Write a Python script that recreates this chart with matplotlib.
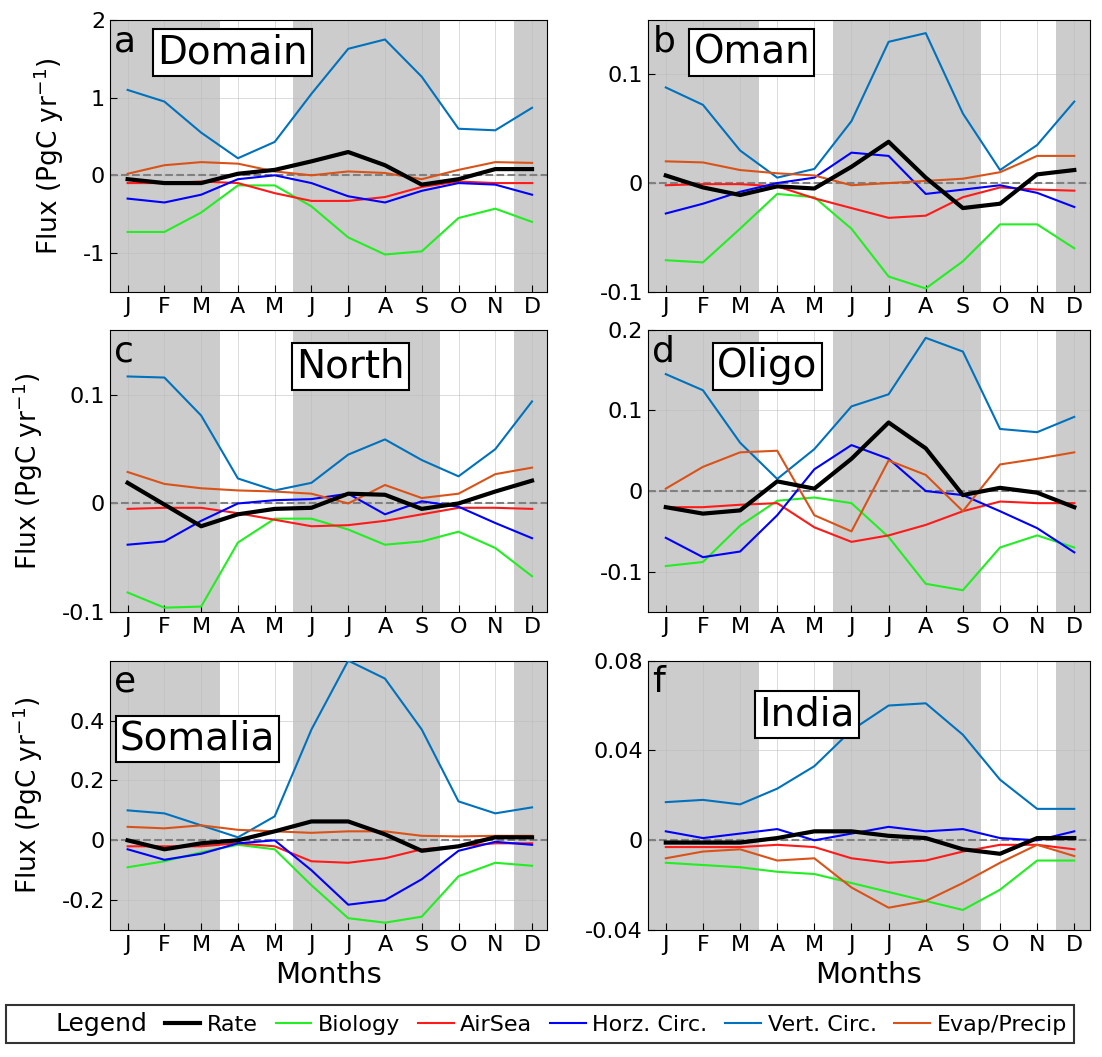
import numpy as np
import matplotlib
matplotlib.use("Agg")
import matplotlib.pyplot as plt
from matplotlib.lines import Line2D

months = ["J", "F", "M", "A", "M", "J", "J", "A", "S", "O", "N", "D"]
series_names = ["Rate", "Biology", "AirSea", "Horz. Circ.", "Vert. Circ.", "Evap/Precip"]
colors = ["black", "#22ee22", "#ff1a1a", "#0000ff", "#0072bd", "#d95319"]

# panel a: Domain
dom_rate = [-0.05, -0.1, -0.1, 0.02, 0.07, 0.18, 0.3, 0.13, -0.12, -0.05, 0.08, 0.08]
dom_bio = [-0.73, -0.73, -0.48, -0.13, -0.13, -0.4, -0.8, -1.02, -0.98, -0.55, -0.43, -0.6]
dom_air = [-0.1, -0.1, -0.08, -0.1, -0.23, -0.33, -0.33, -0.28, -0.15, -0.08, -0.1, -0.1]
dom_horz = [-0.3, -0.35, -0.25, -0.05, 0.0, -0.1, -0.27, -0.35, -0.2, -0.1, -0.12, -0.25]
dom_vert = [1.1, 0.95, 0.55, 0.22, 0.43, 1.05, 1.63, 1.75, 1.27, 0.6, 0.58, 0.87]
dom_evap = [0.02, 0.13, 0.17, 0.15, 0.05, 0.0, 0.05, 0.03, -0.05, 0.07, 0.17, 0.16]

# panel b: Oman
oman_rate = [0.007, -0.004, -0.011, -0.003, -0.005, 0.015, 0.038, 0.005, -0.023, -0.019, 0.008, 0.012]
oman_bio = [-0.071, -0.073, -0.042, -0.01, -0.013, -0.042, -0.086, -0.097, -0.072, -0.038, -0.038, -0.06]
oman_air = [-0.002, -0.001, -0.001, -0.003, -0.014, -0.023, -0.032, -0.03, -0.013, -0.004, -0.006, -0.007]
oman_horz = [-0.028, -0.019, -0.008, 0.0, 0.005, 0.028, 0.025, -0.01, -0.006, -0.002, -0.009, -0.022]
oman_vert = [0.088, 0.072, 0.03, 0.005, 0.013, 0.057, 0.13, 0.138, 0.064, 0.012, 0.035, 0.075]
oman_evap = [0.02, 0.019, 0.012, 0.009, 0.007, -0.002, 0.0, 0.002, 0.004, 0.01, 0.025, 0.025]

# panel c: North
north_rate = [0.019, -0.001, -0.021, -0.01, -0.005, -0.004, 0.009, 0.008, -0.005, 0.0, 0.011, 0.021]
north_bio = [-0.082, -0.096, -0.095, -0.036, -0.014, -0.014, -0.024, -0.038, -0.035, -0.026, -0.041, -0.067]
north_air = [-0.005, -0.004, -0.004, -0.009, -0.015, -0.021, -0.02, -0.016, -0.01, -0.004, -0.004, -0.005]
north_horz = [-0.038, -0.035, -0.016, 0.0, 0.003, 0.004, 0.009, -0.01, 0.002, -0.003, -0.018, -0.032]
north_vert = [0.117, 0.116, 0.081, 0.023, 0.012, 0.019, 0.045, 0.059, 0.04, 0.025, 0.05, 0.094]
north_evap = [0.029, 0.018, 0.014, 0.012, 0.011, 0.009, 0.0, 0.017, 0.005, 0.009, 0.027, 0.033]

# panel d: Oligo
oligo_rate = [-0.02, -0.028, -0.024, 0.012, 0.003, 0.04, 0.085, 0.053, -0.005, 0.004, -0.002, -0.02]
oligo_bio = [-0.093, -0.088, -0.043, -0.012, -0.008, -0.015, -0.057, -0.115, -0.123, -0.07, -0.055, -0.07]
oligo_air = [-0.02, -0.02, -0.017, -0.015, -0.045, -0.063, -0.055, -0.042, -0.025, -0.013, -0.015, -0.015]
oligo_horz = [-0.058, -0.082, -0.075, -0.03, 0.027, 0.057, 0.04, 0.0, -0.005, -0.025, -0.046, -0.076]
oligo_vert = [0.145, 0.125, 0.06, 0.015, 0.052, 0.105, 0.12, 0.19, 0.173, 0.077, 0.073, 0.092]
oligo_evap = [0.003, 0.03, 0.048, 0.05, -0.03, -0.05, 0.038, 0.02, -0.025, 0.033, 0.04, 0.048]

# panel e: Somalia
som_rate = [0.0, -0.03, -0.01, 0.0, 0.03, 0.063, 0.063, 0.02, -0.035, -0.02, 0.01, 0.01]
som_bio = [-0.09, -0.07, -0.04, -0.015, -0.03, -0.15, -0.26, -0.275, -0.255, -0.12, -0.075, -0.085]
som_air = [-0.02, -0.02, -0.02, -0.01, -0.02, -0.07, -0.075, -0.06, -0.03, -0.02, -0.01, -0.01]
som_horz = [-0.03, -0.065, -0.045, -0.01, 0.0, -0.1, -0.215, -0.2, -0.13, -0.035, -0.005, -0.015]
som_vert = [0.1, 0.09, 0.05, 0.01, 0.08, 0.37, 0.6, 0.54, 0.37, 0.13, 0.09, 0.11]
som_evap = [0.045, 0.04, 0.05, 0.035, 0.03, 0.025, 0.03, 0.03, 0.015, 0.013, 0.015, 0.015]

# panel f: India
ind_rate = [-0.001, -0.001, -0.001, 0.001, 0.004, 0.004, 0.002, 0.001, -0.004, -0.006, 0.001, 0.001]
ind_bio = [-0.01, -0.011, -0.012, -0.014, -0.015, -0.019, -0.023, -0.027, -0.031, -0.022, -0.009, -0.009]
ind_air = [-0.003, -0.003, -0.003, -0.002, -0.003, -0.008, -0.01, -0.009, -0.005, -0.002, -0.002, -0.004]
ind_horz = [0.004, 0.001, 0.003, 0.005, 0.0, 0.003, 0.006, 0.004, 0.005, 0.001, 0.0, 0.004]
ind_vert = [0.017, 0.018, 0.016, 0.023, 0.033, 0.049, 0.06, 0.061, 0.047, 0.027, 0.014, 0.014]
ind_evap = [-0.008, -0.005, -0.004, -0.009, -0.008, -0.021, -0.03, -0.027, -0.019, -0.01, -0.002, -0.007]

panels = [
    ("a", "Domain", [dom_rate, dom_bio, dom_air, dom_horz, dom_vert, dom_evap],
     (-1.5, 2), [-1, 0, 1, 2], ["-1", "0", "1", "2"], (0.28, 0.88)),
    ("b", "Oman", [oman_rate, oman_bio, oman_air, oman_horz, oman_vert, oman_evap],
     (-0.1, 0.15), [-0.1, 0, 0.1], ["-0.1", "0", "0.1"], (0.235, 0.88)),
    ("c", "North", [north_rate, north_bio, north_air, north_horz, north_vert, north_evap],
     (-0.1, 0.16), [-0.1, 0, 0.1], ["-0.1", "0", "0.1"], (0.55, 0.87)),
    ("d", "Oligo", [oligo_rate, oligo_bio, oligo_air, oligo_horz, oligo_vert, oligo_evap],
     (-0.15, 0.2), [-0.1, 0, 0.1, 0.2], ["-0.1", "0", "0.1", "0.2"], (0.27, 0.87)),
    ("e", "Somalia", [som_rate, som_bio, som_air, som_horz, som_vert, som_evap],
     (-0.3, 0.6), [-0.2, 0, 0.2, 0.4], ["-0.2", "0", "0.2", "0.4"], (0.2, 0.71)),
    ("f", "India", [ind_rate, ind_bio, ind_air, ind_horz, ind_vert, ind_evap],
     (-0.04, 0.08), [-0.04, 0, 0.04, 0.08], ["-0.04", "0", "0.04", "0.08"], (0.36, 0.8)),
]

fig = plt.figure(figsize=(11.02, 10.57), dpi=100)
lefts = [0.0998, 0.588]
widths = [0.397, 0.401]
rows = [(0.724, 0.257), (0.421, 0.267), (0.120, 0.255)]

x = np.arange(1, 13)
for i, (letter, name, data, ylim, yt, ytl, tpos) in enumerate(panels):
    r, c = divmod(i, 2)
    ax = fig.add_axes([lefts[c], rows[r][0], widths[c], rows[r][1]])
    # seasons shading
    for a, b in [(0.4, 3.5), (5.5, 9.5), (11.5, 12.6)]:
        ax.axvspan(a, b, color="#cccccc", lw=0, zorder=0)
    ax.grid(True, color="#bbbbbb", lw=0.6, alpha=0.6, zorder=1)
    ax.axhline(0, color="gray", ls="--", lw=1.5, zorder=2)
    for k, (vals, col) in enumerate(zip(data, colors)):
        ax.plot(x, vals, color=col, lw=3 if k == 0 else 1.5, zorder=3 if k else 4)
    ax.set_xlim(0.52, 12.42)
    ax.set_ylim(*ylim)
    ax.set_xticks(x)
    ax.set_xticklabels(months)
    ax.set_yticks(yt)
    ax.set_yticklabels(ytl)
    ax.tick_params(direction="in", labelsize=16, length=5)
    ax.text(0.01, 0.985, letter, transform=ax.transAxes, fontsize=26, va="top", ha="left")
    ax.text(tpos[0], tpos[1], name, transform=ax.transAxes, fontsize=28, ha="center", va="center",
            bbox=dict(facecolor="white", edgecolor="black", lw=1.5, pad=3), zorder=5)
    if c == 0:
        ax.set_ylabel("Flux (PgC yr$^{\\mathregular{-1}}$)", fontsize=19, labelpad=12)
    if r == 2:
        ax.set_xlabel("Months", fontsize=21)

handles = [Line2D([], [], color="none")]
labels = ["Legend"]
for k, (nm, col) in enumerate(zip(series_names, colors)):
    handles.append(Line2D([], [], color=col, lw=3 if k == 0 else 1.5))
    labels.append(nm)
leg = fig.legend(handles, labels, loc="lower center", bbox_to_anchor=(0.49, 0.003), ncol=7,
                 fontsize=16, frameon=True, fancybox=False, edgecolor="black",
                 handlelength=1.6, columnspacing=0.8, handletextpad=0.3, borderpad=0.3)
leg.get_frame().set_linewidth(1.5)
leg.get_texts()[0].set_fontsize(18)
leg.legend_handles[0].set_visible(False)

fig.savefig("out.png", dpi=100)
